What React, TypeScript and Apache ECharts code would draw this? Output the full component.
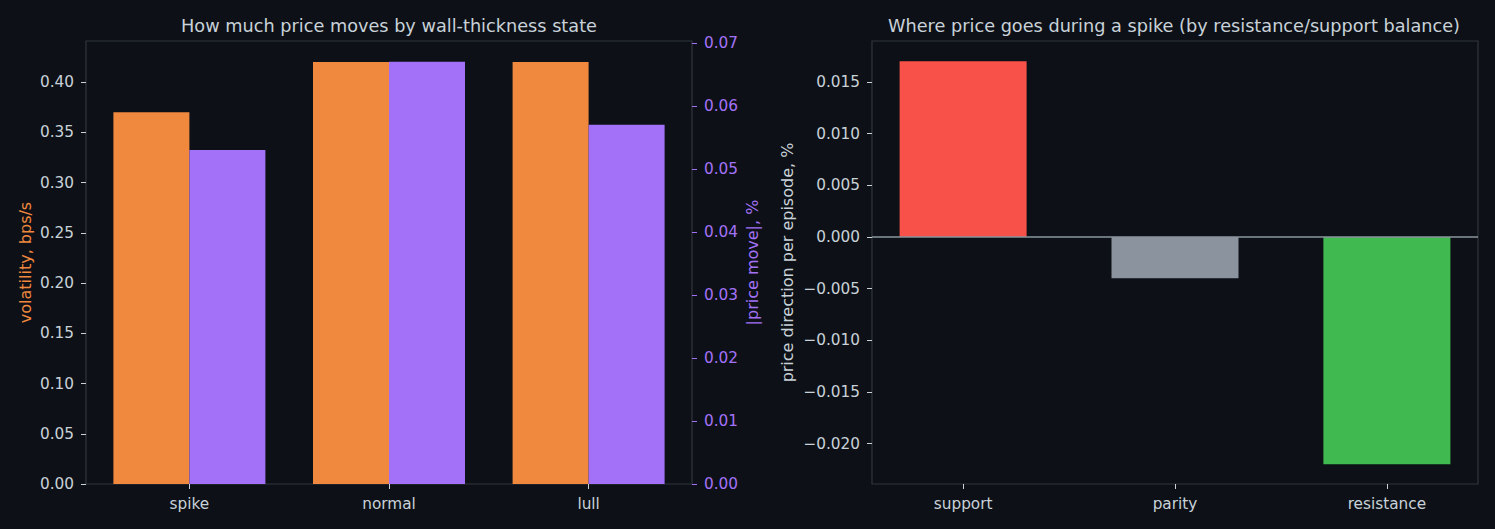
import React, { useEffect, useRef } from "react";
import * as echarts from "echarts";

const categoriesLeft = ["spike", "normal", "lull"];
const volatility = [0.37, 0.42, 0.42];
const priceMove = [0.053, 0.067, 0.057];
const categoriesRight = ["support", "parity", "resistance"];
const direction = [0.017, -0.004, -0.022];
const volTicks = [0, 0.05, 0.1, 0.15, 0.2, 0.25, 0.3, 0.35, 0.4];
const moveTicks = [0, 0.01, 0.02, 0.03, 0.04, 0.05, 0.06, 0.07];
const dirTicks = [-0.02, -0.015, -0.01, -0.005, 0, 0.005, 0.01, 0.015];
const catPositions = [0, 1, 2];

const BG = "#0d1117";
const TEXT = "#c9d1d9";
const FRAME = "#30363d";
const ORANGE = "#f0883e";
const PURPLE = "#a371f7";
const RED = "#f85149";
const GREY = "#8b949e";
const GREEN = "#3fb950";
const dirColors = [RED, GREY, GREEN];
const FONT = "DejaVu Sans";
const TICK_FS = 15.3;
const NAME_FS = 16;
const TITLE_FS = 17.7;

const fmt = (v: number, d: number) => {
  const s = Math.abs(v).toFixed(d);
  return v < -1e-12 ? "\u2212" + s : s;
};

export default function App() {
  const ref = useRef<HTMLDivElement>(null);
  useEffect(() => {
    document.body.style.margin = "0";
    document.body.style.background = BG;
    const chart = echarts.init(ref.current!, null, { renderer: "svg" });
    const tickLabel = (color: string) => ({
      color,
      fontSize: TICK_FS,
      fontFamily: FONT,
    });
    const hiddenLine = { show: false, onZero: false };
    const option: any = {
      animation: false,
      backgroundColor: BG,
      textStyle: { fontFamily: FONT },
      title: [
        {
          text: "How much price moves by wall-thickness state",
          left: 389,
          top: 17,
          padding: 0,
          textAlign: "center",
          textStyle: { color: TEXT, fontSize: TITLE_FS, fontWeight: "normal", fontFamily: FONT },
        },
        {
          text: "Where price goes during a spike (by resistance/support balance)",
          left: 1174,
          top: 17,
          padding: 0,
          textAlign: "center",
          textStyle: { color: TEXT, fontSize: TITLE_FS, fontWeight: "normal", fontFamily: FONT },
        },
      ],
      grid: [
        { left: 86, right: 803, top: 41, bottom: 45, show: true, borderColor: FRAME, borderWidth: 1.2, backgroundColor: "transparent" },
        { left: 872, right: 17, top: 41, bottom: 45, show: true, borderColor: FRAME, borderWidth: 1.2, backgroundColor: "transparent" },
      ],
      xAxis: [
        {
          type: "value",
          gridIndex: 0,
          position: "bottom",
          min: -0.518,
          max: 2.518,
          splitLine: { show: false },
          axisLine: hiddenLine,
          axisTick: { show: true, length: 5, lineStyle: { color: TEXT }, customValues: catPositions },
          axisLabel: {
            ...tickLabel(TEXT),
            margin: 12,
            customValues: catPositions,
            formatter: (v: number) => categoriesLeft[Math.round(v)] ?? "",
          },
        },
        {
          type: "value",
          gridIndex: 1,
          position: "bottom",
          min: -0.43,
          max: 2.43,
          splitLine: { show: false },
          axisLine: hiddenLine,
          axisTick: { show: true, length: 5, lineStyle: { color: TEXT }, customValues: catPositions },
          axisLabel: {
            ...tickLabel(TEXT),
            margin: 12,
            customValues: catPositions,
            formatter: (v: number) => categoriesRight[Math.round(v)] ?? "",
          },
        },
      ],
      yAxis: [
        {
          type: "value",
          gridIndex: 0,
          position: "left",
          min: 0,
          max: 0.4408,
          splitLine: { show: false },
          axisLine: hiddenLine,
          axisTick: { show: true, length: 5, lineStyle: { color: TEXT }, customValues: volTicks },
          axisLabel: { ...tickLabel(TEXT), margin: 12, customValues: volTicks, formatter: (v: number) => fmt(v, 2) },
          name: "volatility, bps/s",
          nameLocation: "middle",
          nameRotate: 90,
          nameGap: 53,
          nameTextStyle: { color: ORANGE, fontSize: NAME_FS, fontFamily: FONT },
        },
        {
          type: "value",
          gridIndex: 0,
          position: "right",
          min: 0,
          max: 0.0703,
          splitLine: { show: false },
          axisLine: hiddenLine,
          axisTick: { show: true, length: 5, lineStyle: { color: PURPLE }, customValues: moveTicks },
          axisLabel: { ...tickLabel(PURPLE), margin: 12, customValues: moveTicks, formatter: (v: number) => fmt(v, 2) },
          name: "|price move|, %",
          nameLocation: "middle",
          nameRotate: 90,
          nameGap: 52,
          nameTextStyle: { color: PURPLE, fontSize: NAME_FS, fontFamily: FONT },
        },
        {
          type: "value",
          gridIndex: 1,
          position: "left",
          min: -0.0239,
          max: 0.01897,
          splitLine: { show: false },
          axisLine: hiddenLine,
          axisTick: { show: true, length: 5, lineStyle: { color: TEXT }, customValues: dirTicks },
          axisLabel: { ...tickLabel(TEXT), margin: 12, customValues: dirTicks, formatter: (v: number) => fmt(v, 3) },
          name: "price direction per episode, %",
          nameLocation: "middle",
          nameRotate: 90,
          nameGap: 77,
          nameTextStyle: { color: TEXT, fontSize: NAME_FS, fontFamily: FONT },
        },
      ],
      series: [
        {
          type: "bar",
          xAxisIndex: 0,
          yAxisIndex: 0,
          barWidth: 76,
          barGap: "0%",
          itemStyle: { color: ORANGE },
          data: volatility.map((v, i) => [catPositions[i], v]),
        },
        {
          type: "bar",
          xAxisIndex: 0,
          yAxisIndex: 1,
          barWidth: 76,
          barGap: "0%",
          itemStyle: { color: PURPLE },
          data: priceMove.map((v, i) => [catPositions[i], v]),
        },
        {
          type: "bar",
          xAxisIndex: 1,
          yAxisIndex: 2,
          barWidth: 127,
          data: direction.map((v, i) => ({ value: [catPositions[i], v], itemStyle: { color: dirColors[i] } })),
          markLine: {
            silent: true,
            symbol: ["none", "none"],
            label: { show: false },
            lineStyle: { color: GREY, width: 1.5, type: "solid" },
            data: [{ yAxis: 0 }],
          },
        },
      ],
    };
    chart.setOption(option);
    return () => chart.dispose();
  }, []);
  return <div ref={ref} style={{ width: 1495, height: 529 }} />;
}
